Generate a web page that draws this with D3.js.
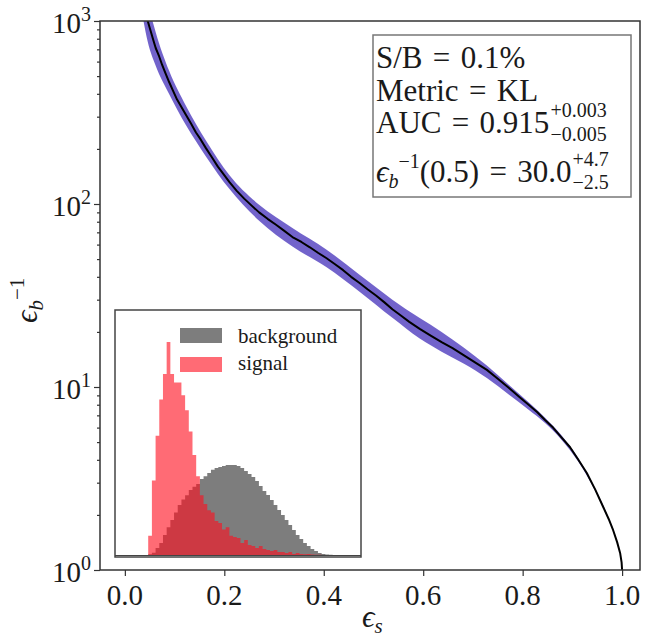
<!DOCTYPE html>
<html><head><meta charset="utf-8">
<script src="https://cdn.jsdelivr.net/npm/d3@7"></script>
<style>
body{margin:0;background:#fff}
svg{display:block}
text{font-family:"Liberation Serif","DejaVu Serif",serif;fill:#1a1a1a}
</style>
</head><body>
<svg id="c" width="646" height="641"></svg>
<script>
// ROC curve: signal efficiency vs inverse background efficiency
const effS = [0.036,0.041,0.046,0.052,0.057,0.062,0.069,0.075,0.082,0.089,0.097,0.105,0.114,0.123,0.133,0.143,0.153,0.163,0.175,0.187,0.198,0.210,0.225,0.240,0.255,0.270,0.287,0.304,0.320,0.337,0.355,0.372,0.389,0.405,0.422,0.439,0.455,0.472,0.488,0.505,0.522,0.538,0.555,0.572,0.593,0.615,0.637,0.659,0.682,0.705,0.728,0.750,0.772,0.794,0.812,0.829,0.845,0.861,0.878,0.895,0.912,0.929,0.946,0.962,0.973,0.982,0.990,0.996,0.999,1.000];
const invEb = [1400,1150,1000,880,790,712,640,575,515,464,415,372,338,306,275,246,224,202,180,160,146,132,118,107,98,90,83,77,71.5,66,62,58,54,50.7,47,43.5,40,37,34.2,31.6,29,26.6,24.6,22.7,20.8,19.1,17.6,16.3,14.9,13.6,12.4,11.1,9.9,8.8,8.0,7.3,6.6,6.0,5.3,4.7,4.0,3.39,2.75,2.21,1.90,1.65,1.42,1.24,1.10,1.0];

// uncertainty band
const bandS  = [0.036,0.046,0.062,0.089,0.123,0.163,0.210,0.270,0.337,0.405,0.472,0.538,0.593,0.637,0.682,0.728,0.772,0.812,0.845,0.878,0.912,0.946,0.973,0.990,1.000];
const bandLo = [1050,770,570,399,269,182,121,81,58.5,45.3,33.2,23.9,18.4,15.6,13.4,11.2,9.1,7.5,6.35,5.15,3.9,2.7,1.88,1.42,1.0];
const bandHi = [1820,1280,869,534,343,222,144,99,74,56.5,41,30.0,23.8,20.0,16.4,13.1,10.3,8.25,6.8,5.45,4.08,2.78,1.92,1.42,1.0];

// inset histograms
const histStart = 0.135, histBinWidth = 0.015;
const signalCounts = [9,35,56,73,85,100,85,81,81,75,68,58,47,37,28,24,21,20,16,15,12,13,9,8.5,8,5.6,7,4.7,4.2,3.3,4.2,2.8,2.3,1.9,2.3,1.4,1.4,0.9,1.4,0.5,0.9,0.5,0.3,0.5,0.2,0.1,0.1,0,0,0];
const backgroundCounts = [0.3,1,3.3,5.6,9.4,13,16.4,20,23.5,26,28,30.5,32,33.3,35.7,37,38.5,40,40.8,41.3,41.8,42.3,42.3,42.3,41.8,40.8,39.4,38,36.6,34.7,32.4,30,28.2,25.8,23.5,21.1,18.8,16.4,14.1,11.7,9.4,7.5,5.6,4.2,2.8,1.9,0.9,0.5,0.2,0.1];

const xTicks = [0.0,0.2,0.4,0.6,0.8,1.0];
const xTickLabels = ["0.0","0.2","0.4","0.6","0.8","1.0"];
const yTicks = [1,10,100,1000];
const yTickExponents = ["0","1","2","3"];
const yMinorTicks = [2,3,4,5,6,7,8,9,20,30,40,50,60,70,80,90,200,300,400,500,600,700,800,900];

const svg = d3.select("#c");
const L = 100, R = 640, T = 21, B = 570;
const x = d3.scaleLinear().domain([-0.05, 1.036]).range([L, R]);
const y = d3.scaleLog().domain([1, 1000]).range([B, T]);

svg.append("rect").attr("width",646).attr("height",641).attr("fill","#fff");
svg.append("clipPath").attr("id","clip").append("rect")
  .attr("x",L).attr("y",T).attr("width",R-L).attr("height",B-T);

function richText(parent, x0, y0, parts, anchor) {
  const g = parent.append("g");
  let cx = 0, hold = 0;
  parts.forEach(p => {
    const t = g.append("text").attr("x", cx).attr("y", p.dy || 0)
      .attr("font-size", p.size).attr("font-style", p.italic ? "italic" : "normal").text(p.t);
    const w = t.node().getComputedTextLength();
    if (p.hold) { hold = w; }
    else { cx += Math.max(w, hold) + (p.gap || 0); hold = 0; }
  });
  let shift = 0;
  if (anchor === "end") shift = -cx;
  if (anchor === "middle") shift = -cx / 2;
  g.attr("transform", `translate(${x0 + shift},${y0})`);
  return g;
}

// band and line
const plot = svg.append("g").attr("clip-path","url(#clip)");
const bandData = bandS.map((s,i)=>({s, lo: bandLo[i], hi: bandHi[i]}));
plot.append("path").datum(bandData)
  .attr("d", d3.area().curve(d3.curveMonotoneX).x(d=>x(d.s)).y0(d=>y(d.lo)).y1(d=>y(d.hi)))
  .attr("fill","#6a5bc8").attr("fill-opacity",0.95);
const lineData = effS.map((s,i)=>({s, v: invEb[i]}));
plot.append("path").datum(lineData)
  .attr("d", d3.line().x(d=>x(d.s)).y(d=>y(d.v)))
  .attr("fill","none").attr("stroke","#000").attr("stroke-width",2).attr("stroke-linejoin","round");

// axes
const xAxis = svg.append("g").attr("transform",`translate(0,${B})`)
  .call(d3.axisBottom(x).tickValues(xTicks).tickSize(6).tickFormat(""));
const yAxis = svg.append("g").attr("transform",`translate(${L},0)`)
  .call(d3.axisLeft(y).tickValues(yTicks).tickSize(6).tickFormat(""));
const yMinor = svg.append("g").attr("transform",`translate(${L},0)`)
  .call(d3.axisLeft(y).tickValues(yMinorTicks).tickSize(3).tickFormat(""));
[xAxis,yAxis,yMinor].forEach(a=>{a.select(".domain").remove(); a.selectAll("line").attr("stroke","#333").attr("stroke-width",1.2);});

xTicks.forEach((v,i)=>{
  svg.append("text").attr("x",x(v)).attr("y",605).attr("text-anchor","middle")
    .attr("font-size",29).text(xTickLabels[i]);
});
yTicks.forEach((v,i)=>{
  richText(svg, 91, y(v)+12, [{t:"10",size:29},{t:yTickExponents[i],size:20,dy:-12}], "end");
});

// frame
svg.append("rect").attr("x",L).attr("y",T).attr("width",R-L).attr("height",B-T)
  .attr("fill","none").attr("stroke","#333").attr("stroke-width",1.5);

// axis labels
richText(svg, 362, 627, [{t:"ϵ",size:31,italic:true},{t:"s",size:21,italic:true,dy:6}], "start");
const yl = svg.append("g").attr("transform","translate(37,323) rotate(-90)");
richText(yl, 0, 0, [{t:"ϵ",size:31,italic:true},{t:"b",size:21,italic:true,dy:6},{t:"−1",size:21,dy:-13}], "start");

// info box
svg.append("rect").attr("x",373).attr("y",35).attr("width",258).attr("height",162)
  .attr("fill","#fff").attr("fill-opacity",0.85).attr("stroke","#777").attr("stroke-width",1.5);
const FS = 31, SS = 20;
const EQ = "\u2004=\u2004";
richText(svg, 376, 68, [{t:"S/B"+EQ+"0.1%",size:FS}], "start");
richText(svg, 376, 101, [{t:"Metric"+EQ+"KL",size:FS}], "start");
richText(svg, 376, 133, [{t:"AUC"+EQ+"0.915",size:FS,gap:1},{t:"+0.003",size:SS,dy:-16,hold:true},{t:"−0.005",size:SS,dy:8}], "start");
richText(svg, 376, 182, [{t:"ϵ",size:FS,italic:true},{t:"b",size:SS,italic:true,dy:6},{t:"−1",size:SS,dy:-14},{t:"(0.5)"+EQ+"30.0",size:FS,gap:1},{t:"+4.7",size:SS,dy:-16,hold:true},{t:"−2.5",size:SS,dy:7}], "start");

// inset
const IL = 115, IR = 361, IT = 310, IB = 557;
svg.append("rect").attr("x",IL).attr("y",IT).attr("width",IR-IL).attr("height",IB-IT)
  .attr("fill","#fff").attr("stroke","#444").attr("stroke-width",1.5);
const xi = d3.scaleLinear().domain([0,1]).range([IL, IR]);
const yi = d3.scaleLinear().domain([0,100]).range([555, 342]);
function stepData(counts){
  const pts = counts.map((c,i)=>({e: histStart + i*histBinWidth, c}));
  pts.push({e: histStart + counts.length*histBinWidth, c: counts[counts.length-1]});
  return pts;
}
const histArea = d3.area().curve(d3.curveStepAfter).x(d=>xi(d.e)).y0(yi(0)).y1(d=>yi(d.c));
svg.append("path").datum(stepData(backgroundCounts)).attr("d",histArea).attr("fill","#7d7d7d");
svg.append("path").datum(stepData(signalCounts)).attr("d",histArea).attr("fill","#ff1020").attr("fill-opacity",0.62);
svg.append("line").attr("x1",IL).attr("x2",IR).attr("y1",555.5).attr("y2",555.5).attr("stroke","#444").attr("stroke-width",1);

// inset legend
svg.append("rect").attr("x",180).attr("y",328).attr("width",42).attr("height",15).attr("fill","#7d7d7d");
svg.append("rect").attr("x",180).attr("y",357).attr("width",42).attr("height",15).attr("fill","#ff1020").attr("fill-opacity",0.62);
svg.append("text").attr("x",238).attr("y",343).attr("font-size",21).text("background");
svg.append("text").attr("x",238).attr("y",370).attr("font-size",21).text("signal");
</script>
</body></html>
